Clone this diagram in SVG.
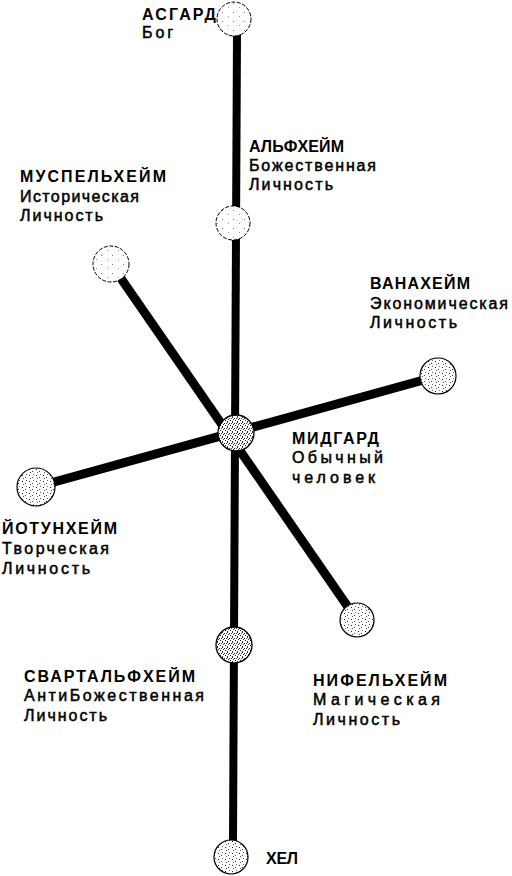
<svg xmlns="http://www.w3.org/2000/svg" width="512" height="876" viewBox="0 0 512 876">
<style>
.bg{fill:#fff}
.ln{stroke:#000;stroke-linecap:butt;fill:none}
.t{font-family:"Liberation Sans",Arial,sans-serif;font-size:16px;fill:#000}
.h{font-weight:bold}
.s{stroke:#000;stroke-width:0.5}
.lt{fill:url(#dotsLight);stroke:#000;stroke-width:1;stroke-dasharray:4 1.5}
.md{fill:url(#dotsMid);stroke:#000;stroke-width:1.2}
.dk{fill:url(#dotsDark);stroke:#000;stroke-width:1.3}
</style>
<defs>
<pattern id="dotsLight" patternUnits="userSpaceOnUse" width="11" height="9">
<rect width="11" height="9" fill="#fff"/>
<rect x="2" y="3" width="1" height="1" fill="#777"/>
<rect x="8" y="7" width="1" height="1" fill="#999"/>
</pattern>
<pattern id="dotsMid" patternUnits="userSpaceOnUse" width="7" height="6">
<rect width="7" height="6" fill="#fff"/>
<rect x="1" y="1" width="1" height="1" fill="#222"/>
<rect x="4" y="3" width="1" height="1" fill="#444"/>
<rect x="5" y="0" width="1" height="1" fill="#666"/>
<rect x="2" y="4" width="1" height="1" fill="#555"/>
</pattern>
<pattern id="dotsDark" patternUnits="userSpaceOnUse" width="5" height="5">
<rect width="5" height="5" fill="#fff"/>
<rect x="0" y="0" width="1" height="1" fill="#111"/>
<rect x="2" y="1" width="1" height="2" fill="#333"/>
<rect x="4" y="3" width="1" height="1" fill="#222"/>
<rect x="1" y="3" width="1" height="1" fill="#444"/>
<rect x="3" y="4" width="1" height="1" fill="#333"/>
</pattern>
</defs>
<rect class="bg" width="512" height="876"/>
<g id="connectors">
<line class="ln" x1="237" y1="34" x2="233" y2="842" stroke-width="8"/>
<line class="ln" x1="111" y1="264" x2="357" y2="620" stroke-width="9"/>
<line class="ln" x1="36" y1="487" x2="438" y2="376" stroke-width="9"/>
</g>
<g id="asgard">
<circle class="lt" cx="234" cy="19" r="17"/>
<text class="t h" x="142" y="20" textLength="74" lengthAdjust="spacing">АСГАРД</text>
<text class="t s" x="142" y="38" textLength="31" lengthAdjust="spacing">Бог</text>
</g>
<g id="alfheim">
<circle class="lt" cx="233" cy="223" r="17"/>
<text class="t h" x="249" y="152" textLength="95" lengthAdjust="spacing">АЛЬФХЕЙМ</text>
<text class="t s" x="249" y="171" textLength="127" lengthAdjust="spacing">Божественная</text>
<text class="t s" x="249" y="190" textLength="84" lengthAdjust="spacing">Личность</text>
</g>
<g id="muspelheim">
<circle class="lt" cx="111" cy="264" r="18"/>
<text class="t h" x="20" y="182" textLength="146" lengthAdjust="spacing">МУСПЕЛЬХЕЙМ</text>
<text class="t s" x="20" y="202" textLength="119" lengthAdjust="spacing">Историческая</text>
<text class="t s" x="20" y="221" textLength="83" lengthAdjust="spacing">Личность</text>
</g>
<g id="vanaheim">
<circle class="md" cx="438" cy="376" r="18"/>
<text class="t h" x="370" y="289" textLength="100" lengthAdjust="spacing">ВАНАХЕЙМ</text>
<text class="t s" x="370" y="309" textLength="138" lengthAdjust="spacing">Экономическая</text>
<text class="t s" x="370" y="328" textLength="87" lengthAdjust="spacing">Личность</text>
</g>
<g id="midgard">
<circle class="dk" cx="236" cy="433" r="18"/>
<text class="t h" x="292" y="444" textLength="87" lengthAdjust="spacing">МИДГАРД</text>
<text class="t s" x="292" y="463" textLength="91" lengthAdjust="spacing">Обычный</text>
<text class="t s" x="292" y="483" textLength="83" lengthAdjust="spacing">человек</text>
</g>
<g id="jotunheim">
<circle class="md" cx="36" cy="487" r="19"/>
<text class="t h" x="2" y="534" textLength="115" lengthAdjust="spacing">ЙОТУНХЕЙМ</text>
<text class="t s" x="2" y="554" textLength="107" lengthAdjust="spacing">Творческая</text>
<text class="t s" x="2" y="574" textLength="88" lengthAdjust="spacing">Личность</text>
</g>
<g id="niflheim">
<circle class="md" cx="357" cy="620" r="17"/>
<text class="t h" x="313" y="686" textLength="134" lengthAdjust="spacing">НИФЕЛЬХЕЙМ</text>
<text class="t s" x="313" y="705" textLength="127" lengthAdjust="spacing">Магическая</text>
<text class="t s" x="313" y="725" textLength="87" lengthAdjust="spacing">Личность</text>
</g>
<g id="svartalfheim">
<circle class="dk" cx="234" cy="645" r="18"/>
<text class="t h" x="24" y="682" textLength="171" lengthAdjust="spacing">СВАРТАЛЬФХЕЙМ</text>
<text class="t s" x="24" y="701" textLength="180" lengthAdjust="spacing">АнтиБожественная</text>
<text class="t s" x="24" y="721" textLength="83" lengthAdjust="spacing">Личность</text>
</g>
<g id="hel">
<circle class="md" cx="231" cy="857" r="17"/>
<text class="t h" x="266" y="864" textLength="32" lengthAdjust="spacing">ХЕЛ</text>
</g>
</svg>
